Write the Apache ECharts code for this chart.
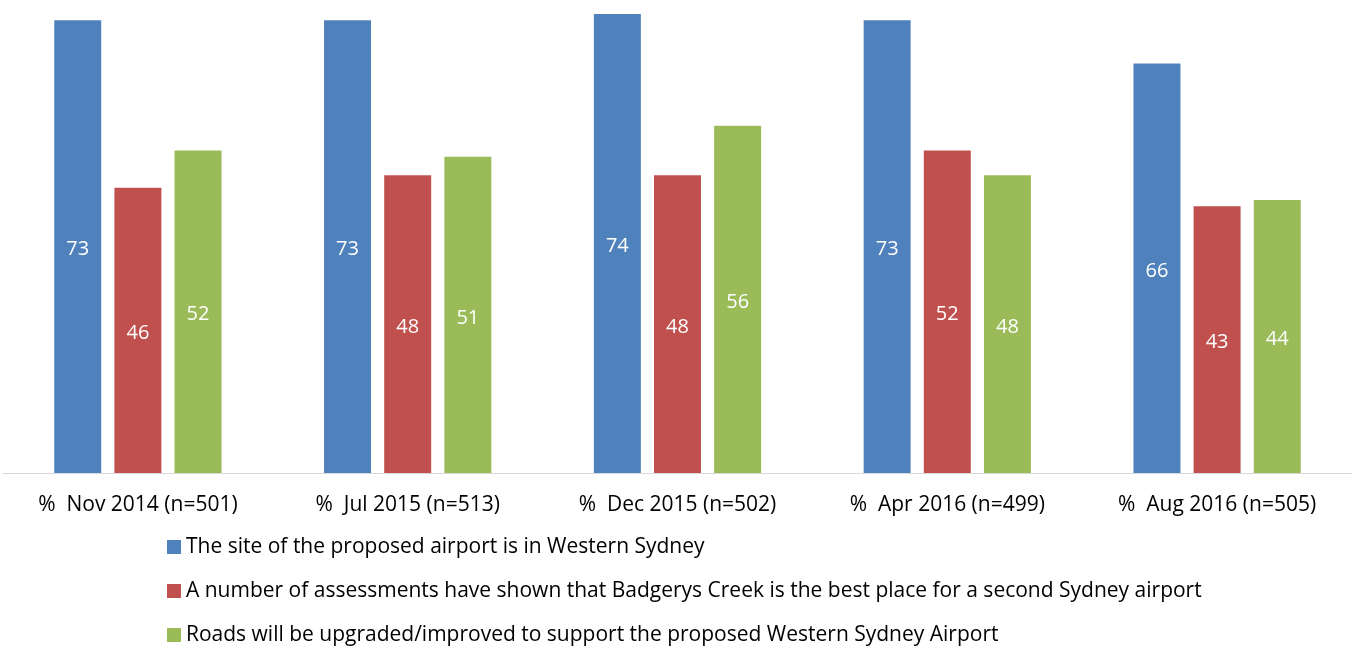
<!DOCTYPE html>
<html>
<head>
<meta charset="utf-8">
<script src="https://cdn.jsdelivr.net/npm/echarts@6/dist/echarts.min.js"></script>
<style>
html, body { margin: 0; padding: 0; background: #fff; }
#chart { width: 1352px; height: 648px; }
</style>
</head>
<body>
<div id="chart"></div>
<script>
// survey waves
const waves = ['%  Nov 2014 (n=501)', '%  Jul 2015 (n=513)', '%  Dec 2015 (n=502)', '%  Apr 2016 (n=499)', '%  Aug 2016 (n=505)'];
const seriesNames = [
    'The site of the proposed airport is in Western Sydney',
    'A number of assessments have shown that Badgerys Creek is the best place for a second Sydney airport',
    'Roads will be upgraded/improved to support the proposed Western Sydney Airport'
];
const siteValues = [73, 73, 74, 73, 66];
const assessValues = [46, 48, 48, 52, 43];
const roadsValues = [52, 51, 56, 48, 44];
const colors = ['#4F81BD', '#C0504D', '#9BBB59'];

const font = '"Open Sans", "Noto Sans", sans-serif';
const chart = echarts.init(document.getElementById('chart'));

const makeSeries = (name, data) => ({
    name: name,
    type: 'bar',
    data: data,
    barGap: '28%',
    barCategoryGap: '38%',
    label: {
        show: true,
        position: 'inside',
        offset: [0, 3],
        color: '#fff',
        fontSize: 20,
        fontFamily: font
    }
});

chart.setOption({
    animation: false,
    color: colors,
    grid: { left: 3, right: 0, top: 14, bottom: 175, containLabel: false },
    legend: {
        orient: 'vertical',
        left: 167,
        top: 535,
        height: 140,
        padding: 0,
        itemWidth: 14,
        itemHeight: 14,
        itemGap: 20,
        icon: 'rect',
        textStyle: { fontSize: 21, color: '#000', fontFamily: font, lineHeight: 24 },
        data: seriesNames
    },
    xAxis: {
        type: 'category',
        data: waves,
        axisLine: { lineStyle: { color: '#d9d9d9', width: 1 } },
        axisTick: { show: false },
        axisLabel: { fontSize: 21, color: '#000', fontFamily: font, margin: 20, lineHeight: 24 }
    },
    yAxis: {
        type: 'value',
        min: 0,
        max: 74,
        show: false,
        splitLine: { show: false }
    },
    series: [
        makeSeries(seriesNames[0], siteValues),
        makeSeries(seriesNames[1], assessValues),
        makeSeries(seriesNames[2], roadsValues)
    ]
});
</script>
</body>
</html>
